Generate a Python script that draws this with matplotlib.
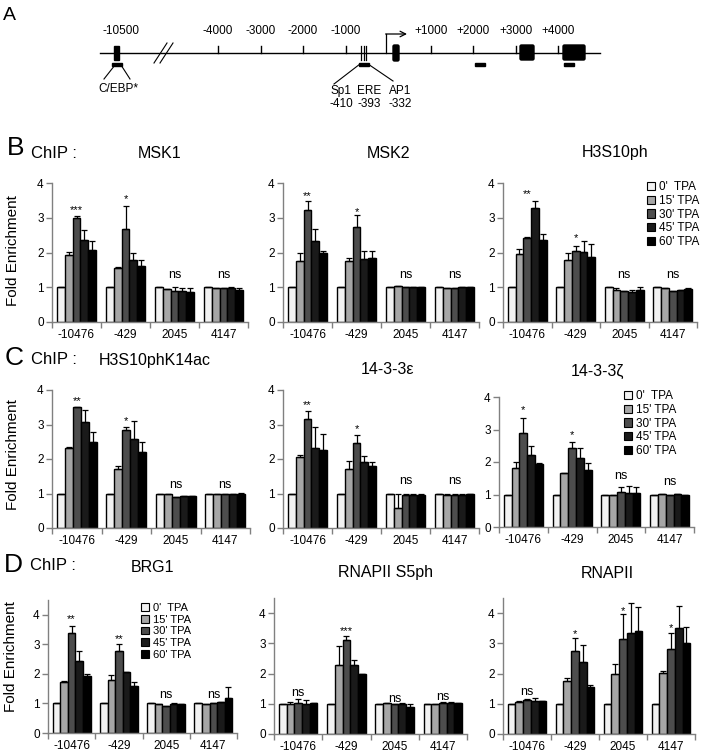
import numpy as np
import matplotlib
matplotlib.use('Agg')
import matplotlib.pyplot as plt
from matplotlib.patches import Rectangle, FancyBboxPatch, Patch

plt.rcParams['font.family'] = ['Liberation Sans', 'DejaVu Sans']

W, H = 705, 756

sites = ['-10476', '-429', '2045', '4147']
times = ["0'  TPA", "15' TPA", "30' TPA", "45' TPA", "60' TPA"]
colors = ['#f2f2f2', '#a6a6a6', '#4d4d4d', '#1a1a1a', '#000000']

# fold enrichment, rows = sites, columns = 0/15/30/45/60 min TPA
msk1 = [[1.0, 1.93, 3.0, 2.35, 2.08], [1.0, 1.56, 2.68, 1.77, 1.6],
        [1.0, 0.95, 0.88, 0.88, 0.87], [1.0, 0.97, 0.97, 0.98, 0.93]]
msk1_err = [[0, 0.09, 0.04, 0.3, 0.25], [0, 0.02, 0.65, 0.22, 0.18],
            [0, 0, 0.13, 0.1, 0.1], [0, 0, 0, 0.04, 0.05]]
msk1_sig = ['***', '*', 'ns', 'ns']
msk1_sig_y = [3.33, 3.64, 1.36, 1.36]

msk2 = [[1.0, 1.75, 3.23, 2.32, 2.0], [1.0, 1.75, 2.73, 1.8, 1.83],
        [1.0, 1.03, 1.0, 1.0, 1.0], [1.0, 0.98, 0.98, 1.0, 1.0]]
msk2_err = [[0, 0.25, 0.24, 0.35, 0.04], [0, 0.08, 0.35, 0.25, 0.22],
            [0, 0.02, 0, 0, 0], [0, 0, 0, 0.02, 0.02]]
msk2_sig = ['**', '*', 'ns', 'ns']
msk2_sig_y = [3.74, 3.28, 1.36, 1.36]

h3s10ph = [[1.0, 1.97, 2.42, 3.27, 2.37], [1.0, 1.78, 2.03, 2.02, 1.87],
           [1.0, 0.93, 0.9, 0.87, 0.93], [1.0, 0.97, 0.9, 0.93, 0.96]]
h3s10ph_err = [[0, 0.14, 0.02, 0.2, 0.15], [0, 0.2, 0.17, 0.32, 0.38],
               [0, 0.06, 0, 0.05, 0.07], [0, 0.02, 0, 0, 0.02]]
h3s10ph_sig = ['**', '*', 'ns', 'ns']
h3s10ph_sig_y = [3.79, 2.53, 1.36, 1.36]

k14ac = [[1.0, 2.32, 3.5, 3.07, 2.48], [1.0, 1.7, 2.83, 2.58, 2.2],
         [1.0, 0.98, 0.9, 0.93, 0.92], [1.0, 0.98, 0.98, 0.98, 1.0]]
k14ac_err = [[0, 0.02, 0.02, 0.35, 0.3], [0, 0.1, 0.1, 0.52, 0.3],
             [0, 0, 0, 0, 0.02], [0, 0, 0, 0, 0.02]]
k14ac_sig = ['**', '*', 'ns', 'ns']
k14ac_sig_y = [3.78, 3.2, 1.25, 1.25]

eps = [[1.0, 2.06, 3.15, 2.33, 2.25], [1.0, 1.72, 2.47, 1.9, 1.8],
       [1.0, 0.57, 0.97, 0.97, 0.97], [1.0, 0.95, 0.95, 0.95, 0.98]]
eps_err = [[0, 0.07, 0.25, 0.6, 0.47], [0, 0.23, 0.23, 0.2, 0.12],
           [0, 0.43, 0.03, 0.03, 0.03], [0, 0.05, 0.05, 0.04, 0.02]]
eps_sig = ['**', '*', 'ns', 'ns']
eps_sig_y = [3.66, 2.98, 1.37, 1.37]

zeta = [[1.0, 1.83, 2.88, 2.23, 1.93], [1.0, 1.65, 2.42, 2.13, 1.76],
        [1.0, 0.97, 1.07, 1.05, 1.05], [1.0, 1.02, 0.98, 1.02, 0.98]]
zeta_err = [[0, 0.17, 0.48, 0.25, 0.05], [0, 0, 0.2, 0.3, 0.2],
            [0, 0, 0.15, 0.2, 0.17], [0, 0.01, 0, 0.01, 0]]
zeta_sig = ['*', '*', 'ns', 'ns']
zeta_sig_y = [3.72, 2.95, 1.57, 1.38]

brg1 = [[1.0, 1.73, 3.37, 2.43, 1.93], [1.0, 1.78, 2.77, 2.05, 1.58],
        [1.0, 0.98, 0.93, 0.98, 0.97], [1.0, 0.98, 1.0, 1.05, 1.18]]
brg1_err = [[0, 0.02, 0.25, 0.35, 0.07], [0, 0.18, 0.25, 0, 0.14],
            [0, 0, 0, 0.02, 0], [0, 0, 0, 0, 0.37]]
brg1_sig = ['**', '**', 'ns', 'ns']
brg1_sig_y = [3.97, 3.3, 1.3, 1.3]

s5ph = [[1.0, 1.0, 1.03, 1.0, 1.02], [1.0, 2.28, 3.12, 2.28, 1.98],
        [1.0, 1.02, 1.0, 1.0, 0.88], [1.0, 1.0, 1.02, 1.03, 1.03]]
s5ph_err = [[0, 0.05, 0.13, 0.12, 0], [0, 0.62, 0.12, 0.18, 0],
            [0, 0, 0, 0.02, 0.12], [0, 0, 0.03, 0.02, 0]]
s5ph_sig = ['ns', '***', 'ns', 'ns']
s5ph_sig_y = [1.35, 3.52, 1.16, 1.24]

rnapii = [[1.0, 1.05, 1.12, 1.1, 1.08], [1.0, 1.77, 2.75, 2.38, 1.57],
          [1.0, 2.0, 3.13, 3.35, 3.42], [1.0, 2.03, 2.8, 3.5, 3.0]]
rnapii_err = [[0, 0.03, 0.05, 0.08, 0], [0, 0.07, 0.43, 0.58, 0.05],
              [0, 0.3, 0.85, 1.0, 0.77], [0, 0.05, 0.55, 0.72, 0.55]]
rnapii_sig = ['ns', '*', '*', '*']
rnapii_sig_y = [1.4, 3.43, 4.18, 3.63]

gray = '#808080'
bw = 0.16


def frac(x0, x1, y0, y1):
    return [x0 / W, 1 - y1 / H, (x1 - x0) / W, (y1 - y0) / H]


def ftext(x, y, s, **kw):
    fig.text(x / W, 1 - y / H, s, ha='center', va='center', **kw)


def bars(box, vals, errs, sig, sig_y, ymax):
    ax = fig.add_axes(frac(*box))
    vals = np.array(vals)
    errs = np.array(errs)
    x = np.arange(len(sites))
    for k in range(len(times)):
        xk = x + (k - 2) * bw
        ax.bar(xk, vals[:, k], bw, color=colors[k], edgecolor='k', lw=1.0, zorder=2)
        ax.errorbar(xk, vals[:, k], yerr=[np.zeros(len(x)), errs[:, k]], fmt='none',
                    ecolor='k', elinewidth=0.9, capsize=2.3, capthick=0.9, zorder=3)
    for i, (s, y) in enumerate(zip(sig, sig_y)):
        if s == 'ns':
            ax.text(i, y, s, ha='center', va='center', fontsize=9)
        else:
            ax.annotate(s, (i, y), xytext=(0, -2.6), textcoords='offset points',
                        ha='center', va='center', fontsize=8)
    ax.set_xlim(-0.5, 3.5)
    ax.set_ylim(0, ymax)
    ax.set_yticks(range(5))
    ax.set_xticks(x)
    ax.set_xticklabels(sites)
    ax.set_xticks(np.arange(-0.5, 4), minor=True)
    ax.tick_params(axis='x', which='major', length=0, pad=5, labelsize=8.5)
    ax.tick_params(axis='x', which='minor', length=4, color=gray, width=1)
    ax.tick_params(axis='y', length=4, color=gray, width=1, pad=2, labelsize=8.5)
    for side in ['top', 'right']:
        ax.spines[side].set_visible(False)
    for side in ['left', 'bottom']:
        ax.spines[side].set_color(gray)
        ax.spines[side].set_linewidth(1)
    return ax


def legend(ax, x, y, size):
    handles = [Patch(facecolor=c, edgecolor='k', lw=0.8) for c in colors]
    ax.legend(handles, times, loc='upper left', bbox_to_anchor=(x / W, 1 - y / H),
              bbox_transform=fig.transFigure, frameon=False, fontsize=size,
              handlelength=0.7, handleheight=0.7, handletextpad=0.35,
              labelspacing=0.15, borderpad=0, borderaxespad=0)


fig = plt.figure(figsize=(W / 100, H / 100), dpi=100)

# ---- A: promoter schematic (pixel coordinates of the panel) ----
axA = fig.add_axes([0, 1 - 130 / H, 1, 130 / H])
axA.set_xlim(0, W)
axA.set_ylim(130, 0)
axA.axis('off')

line_y = 53
tick_x = [218, 261, 303, 346, 431, 473, 516, 558]
tick_lab = ['-4000', '-3000', '-2000', '-1000', '+1000', '+2000', '+3000', '+4000']
exons = [(393, 6, 16), (520, 14, 15), (563, 22, 15)]
amplicons = [112, 359, 475, 564]
site_x = [361, 363.5, 366]
site_lab = ['Sp1', 'ERE', 'AP1']
site_pos = ['-410', '-393', '-332']
site_lab_x = [341, 369, 400]

axA.plot([100, 600], [line_y, line_y], color='k', lw=1)
for tx, tl in zip(tick_x, tick_lab):
    axA.plot([tx, tx], [line_y - 7, line_y], color='k', lw=1)
    axA.text(tx, 31, tl, ha='center', va='center', fontsize=8.5)
axA.text(121, 31, '-10500', ha='center', va='center', fontsize=8.5)
axA.add_patch(Rectangle((114, 46), 5, 14, color='k'))
for ax_x in amplicons:
    axA.add_patch(Rectangle((ax_x, 63), 10, 3, color='k'))
axA.plot([115, 104], [65, 79], color='k', lw=0.8)
axA.plot([121, 130], [65, 79], color='k', lw=0.8)
axA.text(118, 89, 'C/EBP*', ha='center', va='center', fontsize=8.5)
for dx in [0, 6]:
    axA.plot([154 + dx, 167 + dx], [63, 43], color='k', lw=0.8)
for sx in site_x:
    axA.plot([sx, sx], [46, 60], color='k', lw=0.9)
axA.plot([360, 334], [64, 84], color='k', lw=0.8)
axA.plot([368, 393], [64, 81], color='k', lw=0.8)
for lx, l1, l2 in zip(site_lab_x, site_lab, site_pos):
    axA.text(lx, 91, l1, ha='center', va='center', fontsize=8.5)
    axA.text(lx, 104, l2, ha='center', va='center', fontsize=8.5)
axA.plot([386, 386], [line_y, 34], color='k', lw=0.9)
axA.annotate('', xy=(407, 34), xytext=(385.6, 34),
             arrowprops=dict(arrowstyle='->', lw=0.9, color='k', shrinkA=0, shrinkB=0))
for ex, ew, eh in exons:
    axA.add_patch(FancyBboxPatch((ex, 45), ew, eh, boxstyle='round,pad=0,rounding_size=1.5',
                                 color='k'))
axA.text(9, 15, 'A', ha='center', va='center', fontsize=14)

# ---- B ----
bars((52, 248, 183, 322), msk1, msk1_err, msk1_sig, msk1_sig_y, 4)
bars((283, 479, 183, 322), msk2, msk2_err, msk2_sig, msk2_sig_y, 4)
ax3 = bars((503, 697, 183, 322), h3s10ph, h3s10ph_err, h3s10ph_sig, h3s10ph_sig_y, 4)
legend(ax3, 647, 181, 8.5)
ftext(16, 148, 'B', fontsize=19)
ftext(54, 153, 'ChIP :', fontsize=12)
ftext(160, 153, 'MSK1', fontsize=11.5)
ftext(388, 153, 'MSK2', fontsize=11.5)
ftext(615, 153, 'H3S10ph', fontsize=11.5)
ftext(13, 251, 'Fold Enrichment', fontsize=11, rotation=90)

# ---- C ----
bars((52, 250, 390, 528), k14ac, k14ac_err, k14ac_sig, k14ac_sig_y, 4)
bars((283, 479, 390, 528), eps, eps_err, eps_sig, eps_sig_y, 4)
ax3 = bars((499, 694, 397, 527), zeta, zeta_err, zeta_sig, zeta_sig_y, 4)
legend(ax3, 624, 390, 8.5)
ftext(14, 358, 'C', fontsize=19)
ftext(54, 360, 'ChIP :', fontsize=12)
ftext(155, 360, 'H3S10phK14ac', fontsize=11.5)
ftext(387, 370, '14-3-3ε', fontsize=11.5)
ftext(597, 371, '14-3-3ζ', fontsize=11.5)
ftext(13, 455, 'Fold Enrichment', fontsize=11, rotation=90)

# ---- D ----
ax1 = bars((48, 237, 600, 733), brg1, brg1_err, brg1_sig, brg1_sig_y, 4.5)
legend(ax1, 141, 603, 8)
bars((274, 467, 598, 734), s5ph, s5ph_err, s5ph_sig, s5ph_sig_y, 4.5)
bars((503, 695, 598, 734), rnapii, rnapii_err, rnapii_sig, rnapii_sig_y, 4.5)
ftext(13, 565, 'D', fontsize=19)
ftext(53, 566, 'ChIP :', fontsize=12)
ftext(152, 567, 'BRG1', fontsize=11.5)
ftext(386, 573, 'RNAPII S5ph', fontsize=11.5)
ftext(607, 574, 'RNAPII', fontsize=11.5)
ftext(11, 657, 'Fold Enrichment', fontsize=11, rotation=90)

fig.savefig('out.png', dpi=100)
